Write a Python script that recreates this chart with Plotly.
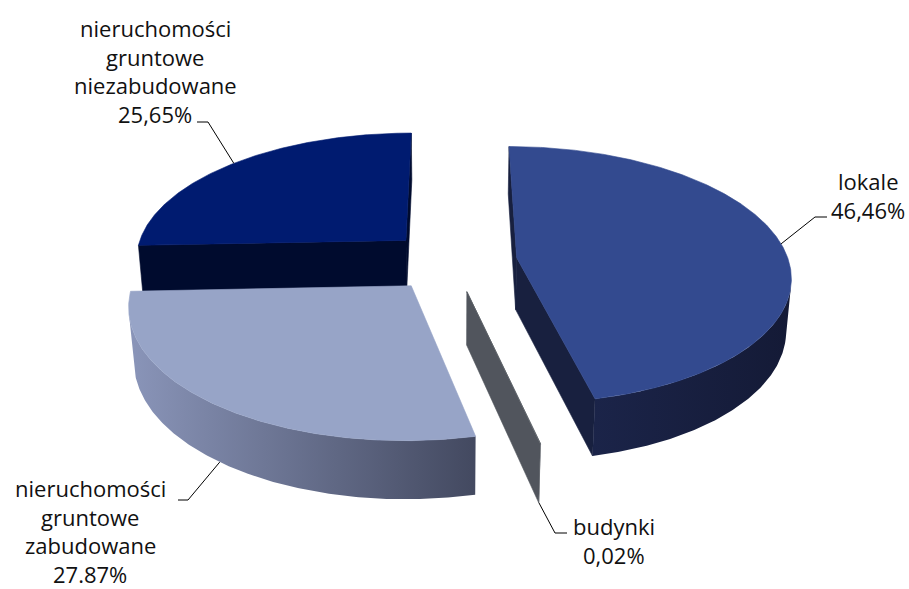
import numpy as np
import plotly.graph_objects as go

# ---------------- data ----------------
categories = ["lokale", "budynki", "nieruchomości gruntowe zabudowane",
              "nieruchomości gruntowe niezabudowane"]
shares = [46.46, 0.02, 27.87, 25.65]
value_labels = ["46,46%", "0,02%", "27.87%", "25,65%"]
name_lines = [["lokale"], ["budynki"],
              ["nieruchomości", "gruntowe", "zabudowane"],
              ["nieruchomości", "gruntowe", "niezabudowane"]]

# ---------------- style ----------------
top_colors = ["#334A8F", "#565A62", "#97A4C7", "#001B70"]
cut_colors = ["#18203F", "#51555D", "#5E6680", "#000B2E"]
side_scales = [
    [[0, "#1B2449"], [1, "#141A36"]],
    [[0, "#51555D"], [1, "#51555D"]],
    [[0, "#8A95B9"], [1, "#434960"]],
    [[0, "#000B2E"], [1, "#000B2E"]],
]
# label block centre (x) and first-line y, leader elbow/end, rim (top/bottom)
label_pos = [
    dict(x=868, y=181, elbow=(815, 217), end=(827, 217), rim="top"),
    dict(x=614, y=526, elbow=(555, 533), end=(567, 533), rim="bottom"),
    dict(x=90, y=488, elbow=(188, 500), end=(178, 500), rim="bottom"),
    dict(x=155, y=28, elbow=(208, 122), end=(197, 122), rim="top"),
]
LINE_SP = 28.7
FONT_SIZE = 22

# projection parameters (3-D tilted pie)
PHI = np.radians(27.8)
DIST = 6.6
FOC = 1795.0
CX, CY = 452.0, 261.0
THICK = 0.22
EXPLODE = 0.24
CAM = np.array([0.0, DIST * np.sin(PHI), -DIST * np.cos(PHI)])  # (X, Y, Z)


def proj(X, Z, Y):
    X = np.asarray(X, float); Z = np.asarray(Z, float); Y = np.asarray(Y, float)
    depth = DIST + Z * np.cos(PHI) - Y * np.sin(PHI)
    up = Y * np.cos(PHI) + Z * np.sin(PHI)
    return CX + FOC * X / depth, CY - FOC * up / depth


def visible(nx, nz, px, py, pz):
    v = CAM - np.array([px, py, pz])
    return nx * v[0] + nz * v[2] > 0


fig = go.Figure()


def add_poly(xs, ys, color=None, scale=None):
    xs = list(xs) + [xs[0]]
    ys = list(ys) + [ys[0]]
    kw = dict(x=xs, y=ys, mode="lines", fill="toself", hoverinfo="skip",
              showlegend=False)
    if scale is not None:
        kw["fillgradient"] = dict(type="horizontal", colorscale=scale)
        kw["line"] = dict(width=0)
    else:
        kw["fillcolor"] = color
        kw["line"] = dict(width=0.6, color=color)
    fig.add_trace(go.Scatter(**kw))


total = sum(shares)
bounds = np.concatenate([[0], np.cumsum(shares)]) / total * 2 * np.pi
slices = []
for i in range(len(shares)):
    a0, a1 = bounds[i], bounds[i + 1]
    mid = (a0 + a1) / 2
    ox, oz = EXPLODE * np.sin(mid), EXPLODE * np.cos(mid)
    slices.append((i, a0, a1, mid, ox, oz))

# draw far slices first
for i, a0, a1, mid, ox, oz in sorted(slices, key=lambda s: -s[5]):
    n = max(2, int(np.degrees(a1 - a0) * 2))
    th = np.linspace(a0, a1, n)
    rx, rz = ox + np.sin(th), oz + np.cos(th)
    # cut faces
    for ang, sgn in ((a0, -1), (a1, 1)):
        nx, nz = sgn * np.cos(ang), -sgn * np.sin(ang)
        if visible(nx, nz, ox, 0, oz):
            px = [ox, ox + np.sin(ang), ox + np.sin(ang), ox]
            pz = [oz, oz + np.cos(ang), oz + np.cos(ang), oz]
            py = [0, 0, -THICK, -THICK]
            sx, sy = proj(px, pz, py)
            add_poly(sx, sy, color=cut_colors[i])
    # outer curved side
    vis = np.array([visible(np.sin(t), np.cos(t), x, 0, z) for t, x, z in zip(th, rx, rz)])
    runs, start = [], None
    for k, v in enumerate(vis):
        if v and start is None:
            start = k
        if (not v or k == len(vis) - 1) and start is not None:
            end = k if v else k - 1
            if end > start:
                runs.append((start, end))
            start = None
    for s, e in runs:
        tx, ty = proj(rx[s:e + 1], rz[s:e + 1], np.zeros(e - s + 1))
        bx, by = proj(rx[s:e + 1], rz[s:e + 1], -THICK * np.ones(e - s + 1))
        add_poly(list(tx) + list(bx[::-1]), list(ty) + list(by[::-1]), scale=side_scales[i])
    # top face
    tx, ty = proj(np.concatenate([[ox], rx]), np.concatenate([[oz], rz]), np.zeros(n + 1))
    add_poly(tx, ty, color=top_colors[i])

# labels and leader lines
annotations = []
for i, _, _, mid, ox, oz in slices:
    lp = label_pos[i]
    yr = 0 if lp["rim"] == "top" else -THICK
    ax, ay = proj(ox + np.sin(mid), oz + np.cos(mid), yr)
    fig.add_trace(go.Scatter(x=[float(ax), lp["elbow"][0], lp["end"][0]],
                             y=[float(ay), lp["elbow"][1], lp["end"][1]],
                             mode="lines", line=dict(color="#000000", width=1),
                             hoverinfo="skip", showlegend=False))
    lines = name_lines[i] + [value_labels[i]]
    for k, t in enumerate(lines):
        annotations.append(dict(x=lp["x"], y=lp["y"] + k * LINE_SP, text=t,
                                showarrow=False, xanchor="center", yanchor="middle",
                                borderpad=0,
                                font=dict(family="Open Sans", size=FONT_SIZE, color="#111111")))

fig.update_layout(
    width=909, height=589, autosize=False,
    margin=dict(l=0, r=0, t=0, b=0),
    paper_bgcolor="white", plot_bgcolor="white",
    xaxis=dict(range=[0, 909], visible=False, fixedrange=True),
    yaxis=dict(range=[589, 0], visible=False, fixedrange=True),
    annotations=annotations,
)

fig.write_html("out.html", config={"displayModeBar": False},
               post_script="document.body.style.margin='0';document.body.style.overflow='hidden';")
